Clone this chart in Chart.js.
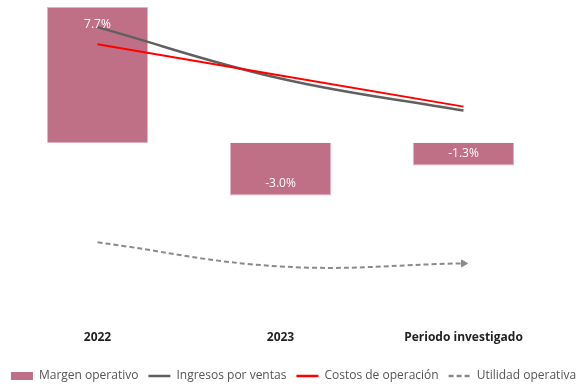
<!DOCTYPE html>
<html>
<head>
<meta charset="utf-8">
<script src="https://cdn.jsdelivr.net/npm/chart.js@4/dist/chart.umd.min.js"></script>
<style>
  html, body { margin: 0; padding: 0; background: #fff; }
  #wrap { width: 587px; height: 386px; }
</style>
</head>
<body>
<div id="wrap"><canvas id="margenChart"></canvas></div>
<script>
// categories and values
const periodos = ['2022', '2023', 'Periodo investigado'];
const margenOperativo = [7.7, -3.0, -1.3];          // %
// lines are drawn on a hidden index axis (0-100)
const ingresosVentas = [93.4, 76.6, 66.1];
const costosOperacion = [87.8, 77.6, 67.4];
const utilidadOperativa = [23.0, 15.1, 16.1];

const barLabels = {
    id: 'barLabels',
    afterDatasetsDraw(chart) {
        const ctx = chart.ctx;
        const meta = chart.getDatasetMeta(0);
        ctx.save();
        ctx.font = '12px "Open Sans"';
        ctx.fillStyle = '#ffffff';
        ctx.textAlign = 'center';
        ctx.textBaseline = 'middle';
        meta.data.forEach((bar, i) => {
            const v = margenOperativo[i];
            const y = v >= 0 ? bar.y + 18 : bar.y - 12;
            ctx.fillText(v.toFixed(1) + '%', bar.x, y);
        });
        ctx.restore();
    }
};

const ctx = document.getElementById('margenChart').getContext('2d');
const margenChart = new Chart(ctx, {
    data: {
        labels: periodos,
        datasets: [{
            type: 'bar',
            label: 'Margen operativo',
            data: margenOperativo,
            backgroundColor: '#bf7087',
            borderColor: '#e2b3c1',
            borderWidth: 1,
            categoryPercentage: 1,
            barPercentage: 0.553,
            yAxisID: 'y',
            order: 10
        }, {
            type: 'line',
            label: 'Ingresos por ventas',
            data: ingresosVentas,
            borderColor: '#606060',
            borderWidth: 2.5,
            tension: 0.4,
            pointRadius: 0,
            yAxisID: 'y2',
            order: 2
        }, {
            type: 'line',
            label: 'Costos de operación',
            data: costosOperacion,
            borderColor: '#ff0000',
            borderWidth: 2,
            tension: 0,
            pointRadius: 0,
            yAxisID: 'y2',
            order: 1
        }, {
            type: 'line',
            label: 'Utilidad operativa',
            data: utilidadOperativa,
            borderColor: '#8a8a8a',
            backgroundColor: '#8a8a8a',
            borderWidth: 2,
            borderDash: [5, 3],
            tension: 0.4,
            pointStyle: 'triangle',
            pointRotation: 90,
            pointRadius: [0, 0, 4],
            pointBorderWidth: 1,
            yAxisID: 'y2',
            order: 3
        }]
    },
    options: {
        responsive: true,
        maintainAspectRatio: false,
        animation: false,
        layout: {
            padding: { left: 0, right: 0, top: 7, bottom: -6 }
        },
        plugins: {
            tooltip: { enabled: false },
            legend: {
                display: true,
                position: 'bottom',
                labels: {
                    font: { family: '"Open Sans"', size: 12 },
                    color: '#555555',
                    usePointStyle: true,
                    pointStyleWidth: 22,
                    boxHeight: 8,
                    padding: 10,
                    generateLabels(chart) {
                        const items = Chart.defaults.plugins.legend.labels.generateLabels(chart);
                        items.sort((a, b) => a.datasetIndex - b.datasetIndex);
                        items.forEach(item => {
                            const ds = chart.data.datasets[item.datasetIndex];
                            item.rotation = 0;
                            if (ds.type === 'bar') {
                                item.pointStyle = 'rect';
                                item.fillStyle = ds.backgroundColor;
                                item.lineWidth = 0;
                            } else {
                                item.pointStyle = 'line';
                                item.strokeStyle = ds.borderColor;
                                item.lineWidth = 2.5;
                                item.lineDash = ds.borderDash || [];
                            }
                        });
                        return items;
                    }
                }
            }
        },
        scales: {
            x: {
                grid: { display: false },
                border: { display: false },
                ticks: {
                    color: '#222222',
                    font: { family: '"Open Sans"', size: 12, weight: 'bold' },
                    padding: 10
                },
                afterFit(axis) { axis.height += 5; }
            },
            y: {
                position: 'left',
                min: -9.64,
                max: 7.7,
                grid: { display: false },
                border: { display: false },
                ticks: { display: false },
                afterFit(axis) { axis.width = 6; }
            },
            y2: {
                position: 'right',
                min: 0,
                max: 100,
                grid: { display: false },
                border: { display: false },
                ticks: { display: false },
                afterFit(axis) { axis.width = 32; }
            }
        }
    },
    plugins: [barLabels]
});
</script>
</body>
</html>
